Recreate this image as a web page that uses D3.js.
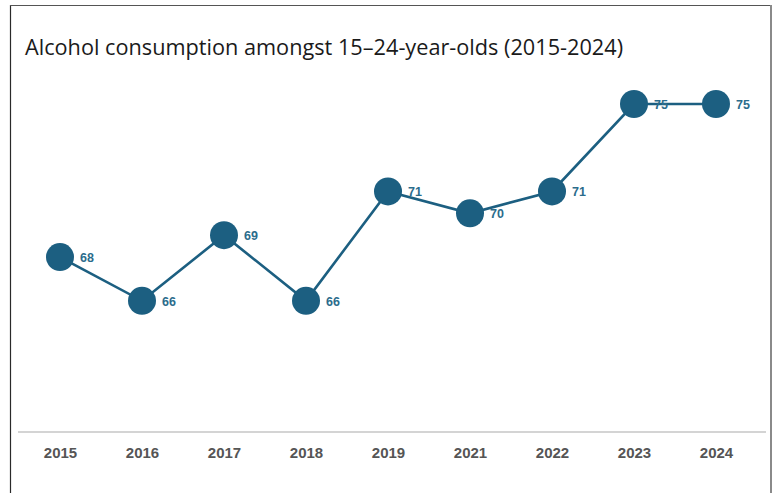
<!DOCTYPE html>
<html>
<head>
<meta charset="utf-8">
<script src="https://cdn.jsdelivr.net/npm/d3@7"></script>
<style>
  html, body { margin: 0; padding: 0; background: #fff; }
  svg { display: block; }
</style>
</head>
<body>
<svg id="chart" width="776" height="493"></svg>
<script>
// Survey years and share of 15–24-year-olds who consume alcohol
const years = ["2015", "2016", "2017", "2018", "2019", "2021", "2022", "2023", "2024"];
const values = [68, 66, 69, 66, 71, 70, 71, 75, 75];
const title = "Alcohol consumption amongst 15\u201324-year-olds (2015-2024)";

const W = 776, H = 493;
const svg = d3.select("#chart");

// Frame around the figure (open at the bottom)
svg.append("line").attr("x1", 10.5).attr("y1", 5).attr("x2", 10.5).attr("y2", H)
  .attr("stroke", "#2a2a2a").attr("stroke-width", 1.2);
svg.append("line").attr("x1", 10).attr("y1", 5.5).attr("x2", 772).attr("y2", 5.5)
  .attr("stroke", "#555").attr("stroke-width", 1.2);
svg.append("line").attr("x1", 771).attr("y1", 5).attr("x2", 771).attr("y2", H)
  .attr("stroke", "#8a8a8a").attr("stroke-width", 2);

// Title
svg.append("text")
  .attr("x", 25).attr("y", 55)
  .attr("font-family", "'Open Sans', sans-serif")
  .attr("font-size", 21.7)
  .attr("fill", "#1a1a1a")
  .text(title);

// Scales
const x = d3.scalePoint().domain(years).range([60, 716]);
const y = d3.scaleLinear().domain([60, 75]).range([432, 104]);

// Baseline axis
const axisG = svg.append("g").attr("transform", `translate(0,${y(60)})`);
axisG.call(d3.axisBottom(x).tickSize(0).tickPadding(15));
axisG.select(".domain").remove();
axisG.append("line").attr("x1", 18).attr("x2", 766).attr("y1", 0).attr("y2", 0)
  .attr("stroke", "#d4d4d4").attr("stroke-width", 2);
axisG.selectAll(".tick text")
  .attr("font-family", "'Liberation Sans', Arial, sans-serif")
  .attr("font-size", 15)
  .attr("font-weight", "bold")
  .attr("fill", "#555");

const data = years.map((yr, i) => ({ year: yr, value: values[i] }));
const color = "#1c5f81";

// Connecting line
svg.append("path")
  .datum(data)
  .attr("fill", "none")
  .attr("stroke", color)
  .attr("stroke-width", 2.6)
  .attr("d", d3.line().x(d => x(d.year)).y(d => y(d.value)));

// Value labels
svg.append("g").selectAll("text")
  .data(data)
  .join("text")
  .attr("x", d => x(d.year) + 20)
  .attr("y", d => y(d.value) + 5)
  .attr("font-family", "'Liberation Sans', Arial, sans-serif")
  .attr("font-size", 12.5)
  .attr("font-weight", "bold")
  .attr("fill", "#2b6c8c")
  .text(d => d.value);

// Markers
svg.append("g").selectAll("circle")
  .data(data)
  .join("circle")
  .attr("cx", d => x(d.year))
  .attr("cy", d => y(d.value))
  .attr("r", 14)
  .attr("fill", color);
</script>
</body>
</html>
